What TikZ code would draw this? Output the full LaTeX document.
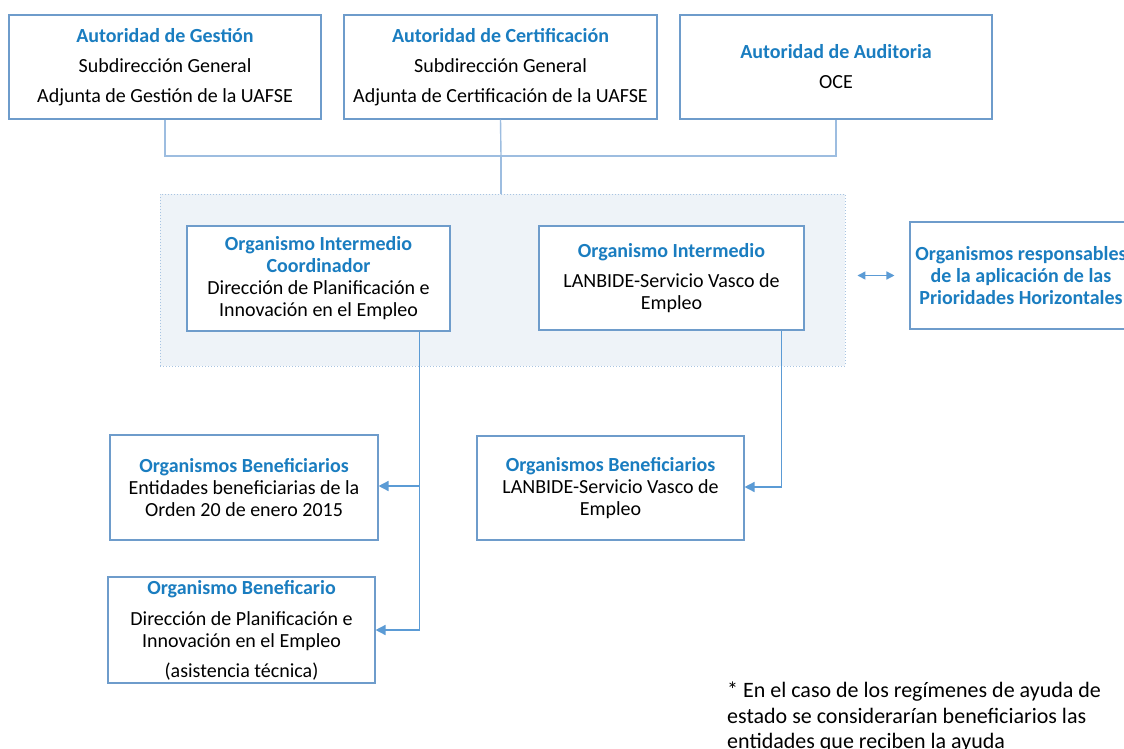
\documentclass[tikz,border=0pt]{standalone}
\usepackage{fontspec}
\setmainfont{Carlito}
\usetikzlibrary{arrows.meta}
\definecolor{ttl}{HTML}{1A7DC0}
\definecolor{bord}{HTML}{6E9CCB}
\definecolor{lnk}{HTML}{9DBDE0}
\definecolor{arrc}{HTML}{5B9BD5}
\definecolor{contfill}{HTML}{EEF3F8}
\definecolor{contbord}{HTML}{A8C4E2}
\newcommand\hd[1]{{\color{ttl}\bfseries #1}}
\begin{document}
\begin{tikzpicture}[x=1pt,y=-1pt,
  box/.style={draw=bord, line width=1.1pt, fill=white, inner sep=0pt, align=center,
    font=\fontsize{20}{22}\selectfont},
  lnkline/.style={draw=lnk, line width=1.4pt},
  arrline/.style={draw=arrc, line width=1.5pt, -{Triangle[length=10pt,width=10pt]}},
  dblarr/.style={draw=arrc, line width=1.4pt, {Triangle[length=8pt,width=8pt]}-{Triangle[length=8pt,width=8pt]}}]
\useasboundingbox (0,0) rectangle (1124,749);
\fill[white] (0,0) rectangle (1124,749);
% container
\node[draw=contbord, dotted, line width=1pt, fill=contfill, minimum width=685pt, minimum height=172pt, inner sep=0pt] (cont) at (502.5,280) {};
% top boxes
\node[box, minimum width=312pt, minimum height=104pt] (AG) at (165,67)
  {\hd{Autoridad de Gestión}\\[8pt]Subdirección General\\[8pt]Adjunta de Gestión de la UAFSE};
\node[box, minimum width=313pt, minimum height=104pt] (AC) at (500.5,67)
  {\hd{Autoridad de Certificación}\\[8pt]Subdirección General\\[8pt]Adjunta de Certificación de la UAFSE};
\node[box, minimum width=312pt, minimum height=104pt] (AA) at (836,67)
  {\hd{Autoridad de Auditoria}\\[8pt]OCE};
% intermediate
\node[box, minimum width=263pt, minimum height=105pt] (OIC) at (318.5,278.5)
  {\hd{Organismo Intermedio}\\\hd{Coordinador}\\Dirección de Planificación e\\Innovación en el Empleo};
\node[box, minimum width=265pt, minimum height=104pt] (OI) at (671.5,278)
  {\hd{Organismo Intermedio}\\[8pt]LANBIDE-Servicio Vasco de\\Empleo};
\node[box, minimum width=222pt, minimum height=107pt] (RB) at (1021,275.5)
  {\hd{Organismos responsables}\\\hd{de la aplicación de las}\\\hd{Prioridades Horizontales}};
% beneficiaries
\node[box, minimum width=268pt, minimum height=105pt] (OBs1) at (244,487.5)
  {\hd{Organismos Beneficiarios}\\Entidades beneficiarias de la\\Orden 20 de enero 2015};
\node[box, minimum width=267pt, minimum height=104pt] (OBs2) at (610.5,488)
  {\hd{Organismos Beneficiarios}\\LANBIDE-Servicio Vasco de\\Empleo};
\node[box, minimum width=267pt, minimum height=106pt] (OB) at (241.5,630)
  {\hd{Organismo Beneficario}\\[9pt]Dirección de Planificación e\\Innovación en el Empleo\\[8pt](asistencia técnica)};
% connectors top
\coordinate (bus) at (501,156);
\draw[lnkline] (AG.south) |- (bus) -| (AA.south);
\draw[lnkline] (AC.south) -- (bus);
\draw[lnkline] (bus) -- (bus |- cont.north);
% arrows
\draw[arrline] ([xshift=-31pt]OIC.south east) |- ([yshift=1.5pt]OBs1.east);
\draw[arrline] ([xshift=-31pt]OIC.south east) |- (OB.east);
\draw[arrline] ([xshift=-23pt]OI.south east) |- ([yshift=1pt]OBs2.east);
\draw[dblarr] ([xshift=-52pt]RB.west) -- ([xshift=-15pt]RB.west);
% footnote
\node[anchor=north west, align=left, inner sep=0pt, font=\fontsize{22}{25.5}\selectfont] (note) at (727,682)
  {* En el caso de los regímenes de ayuda de\\estado se considerarían beneficiarios las\\entidades que reciben la ayuda};
\end{tikzpicture}
\end{document}
